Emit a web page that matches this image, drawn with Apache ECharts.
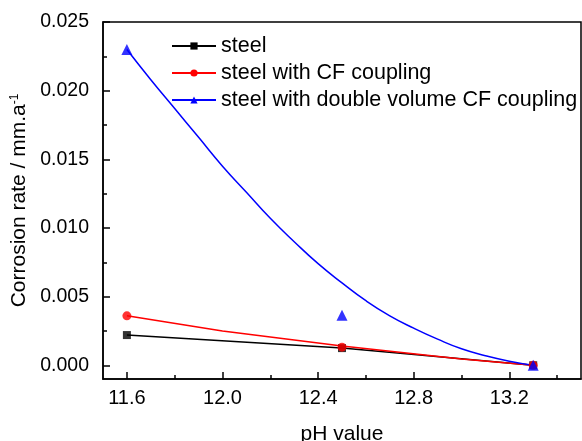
<!DOCTYPE html>
<html><head><meta charset="utf-8">
<script src="https://cdn.jsdelivr.net/npm/echarts@6/dist/echarts.min.js"></script>
<style>html,body{margin:0;padding:0;background:#fff}#c{width:582px;height:441px}</style>
</head><body><div id="c"></div>
<script>
const seriesNames = ['steel', 'steel with CF coupling', 'steel with double volume CF coupling'];
const phPoints = [11.6, 12.5, 13.3];
const steelRate = [0.0022, 0.00125, 0.0];
const cfRate = [0.0036, 0.00132, 0.0];
const doubleRate = [0.0230, 0.00365, 0.0];
// fitted curves
const steelFitPh = [11.6, 12.5, 13.3];
const steelFitRate = [0.0022, 0.00125, 0.0];
const cfFitPh = [11.6, 12.0, 12.5, 13.0, 13.3];
const cfFitRate = [0.0036, 0.0025, 0.0014, 0.00045, 0.0];
const doubleFitPh = [11.6, 11.7, 11.8, 11.9, 12.0, 12.1, 12.2, 12.3, 12.4, 12.5, 12.6, 12.7, 12.8, 12.9, 13.0, 13.1, 13.2, 13.3];
const doubleFitRate = [0.0230, 0.0208, 0.0187, 0.0166, 0.0145, 0.0126, 0.0107, 0.0090, 0.0074, 0.0060, 0.0047, 0.0036, 0.0027, 0.0019, 0.0012, 0.0007, 0.0003, 0.0000];
const xTicks = [11.6, 12.0, 12.4, 12.8, 13.2];
const xMinorTicks = [11.8, 12.2, 12.6, 13.0, 13.4];
const yTicks = [0, 0.005, 0.010, 0.015, 0.020, 0.025];
const yMinorTicks = [0.0025, 0.0075, 0.0125, 0.0175, 0.0225];

const zip = (a, b) => a.map((v, i) => [v, b[i]]);
const FONT = '"Liberation Sans", Arial, sans-serif';
const colors = ['#000000', '#ff0000', '#0000ff'];
const symbols = ['rect', 'circle', 'triangle'];
const sizes = [8, 9, 11];
const fits = [zip(steelFitPh, steelFitRate), zip(cfFitPh, cfFitRate), zip(doubleFitPh, doubleFitRate)];
const pts = [zip(phPoints, steelRate), zip(phPoints, cfRate), zip(phPoints, doubleRate)];

const series = [];
seriesNames.forEach((n, i) => {
  series.push({
    type: 'line', name: n, data: fits[i], xAxisIndex: 0, yAxisIndex: 0,
    symbol: symbols[i], showSymbol: false, smooth: i === 2 ? true : false,
    itemStyle: { color: colors[i] }, lineStyle: { color: colors[i], width: 1.5 }, z: 2
  });
});
seriesNames.forEach((n, i) => {
  series.push({
    type: 'scatter', name: n + ' points', data: pts[i], xAxisIndex: 0, yAxisIndex: 0,
    symbol: symbols[i], symbolSize: sizes[i], itemStyle: { color: colors[i] }, z: 3 + i
  });
});

const GRID_TOP = 22, GRID_BOTTOM = 62, H = 441;
const tickStyle = { color: '#000', width: 1.5 };
const chart = echarts.init(document.getElementById('c'), null, { renderer: 'canvas' });
chart.setOption({
  animation: false,
  textStyle: { fontFamily: FONT },
  grid: { left: 103, right: 1, top: GRID_TOP, bottom: GRID_BOTTOM, show: true, borderColor: '#000', borderWidth: 1.5, containLabel: false, outerBoundsMode: 'none' },
  legend: {
    data: seriesNames, orient: 'vertical', left: 171, top: 35, padding: 0,
    itemWidth: 44, itemHeight: 9, itemGap: 5,
    textStyle: { fontSize: 21.5, color: '#000', fontFamily: FONT }
  },
  xAxis: [{
    type: 'value', min: 11.5, max: 13.5, position: 'bottom',
    name: 'pH value', nameLocation: 'middle', nameGap: 45,
    nameTextStyle: { fontSize: 21, color: '#000', fontFamily: FONT },
    axisLine: { show: true, onZero: false, lineStyle: tickStyle },
    axisTick: { show: true, inside: true, length: 7, lineStyle: tickStyle, customValues: xTicks },
    axisLabel: { show: true, color: '#000', fontSize: 20, fontFamily: FONT, margin: 9, customValues: xTicks, formatter: v => v.toFixed(1) },
    splitLine: { show: false }
  }, {
    type: 'value', min: 11.5, max: 13.5, position: 'top', offset: -(H - GRID_TOP - GRID_BOTTOM),
    axisLine: { show: false, onZero: false },
    axisTick: { show: true, inside: false, length: 4, lineStyle: tickStyle, customValues: xMinorTicks },
    axisLabel: { show: false },
    splitLine: { show: false }
  }],
  yAxis: [{
    type: 'value', min: -0.001, max: 0.025, position: 'left',
    name: '{a|Corrosion rate / mm.a}{s|-1}', nameLocation: 'middle', nameGap: 61, nameRotate: 90,
    nameTextStyle: {
      color: '#000', fontFamily: FONT,
      rich: { a: { fontSize: 21, color: '#000', fontFamily: FONT }, s: { fontSize: 12, color: '#000', fontFamily: FONT, verticalAlign: 'top', padding: [0, 0, 6, 0] } }
    },
    axisLine: { show: true, onZero: false, lineStyle: tickStyle },
    axisTick: { show: true, inside: true, length: 7, lineStyle: tickStyle, customValues: yTicks },
    axisLabel: { show: true, color: '#000', fontSize: 19.5, fontFamily: FONT, margin: 14, customValues: yTicks, formatter: v => v.toFixed(3) },
    splitLine: { show: false }
  }, {
    type: 'value', min: -0.001, max: 0.025, position: 'left',
    axisLine: { show: false, onZero: false },
    axisTick: { show: true, inside: true, length: 4, lineStyle: tickStyle, customValues: yMinorTicks },
    axisLabel: { show: false },
    splitLine: { show: false }
  }],
  series: series
});
</script>
</body></html>
